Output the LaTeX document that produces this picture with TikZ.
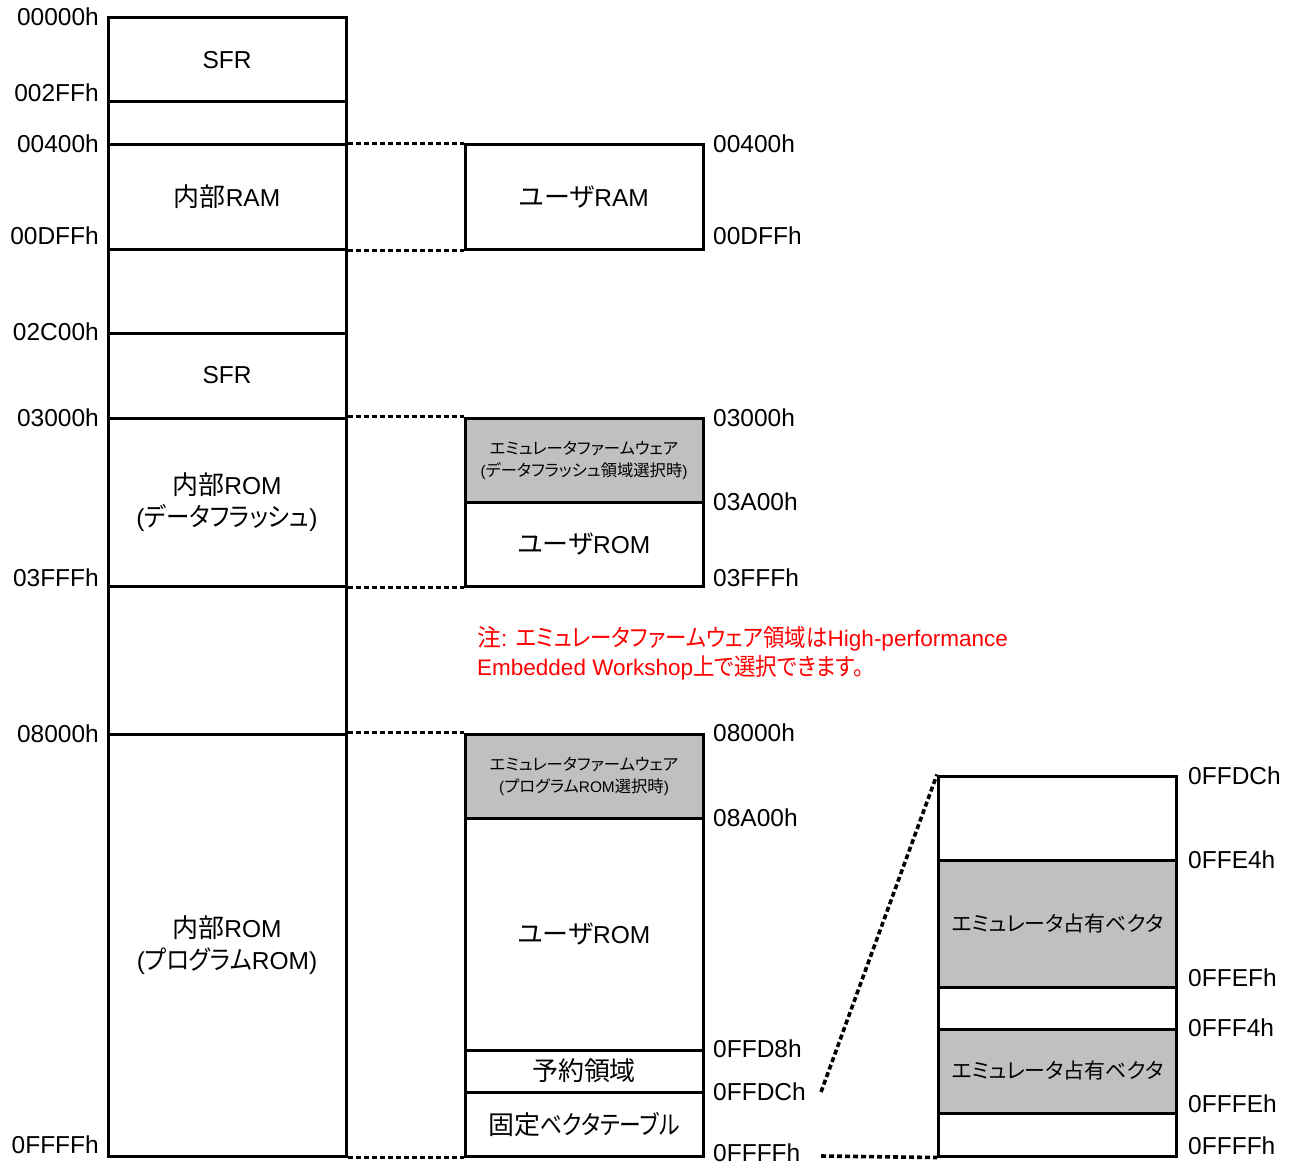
\documentclass[tikz,border=0pt]{standalone}
\usepackage{fontspec}
\setmainfont{Liberation Sans}
\newfontfamily\cjk[Scale=1.06,RawFeature={+palt}]{Noto Sans CJK JP}
\newfontfamily\cjkn[Scale=1.06,FakeStretch=0.84,RawFeature={+palt}]{Noto Sans CJK JP}
\newfontfamily\cjkm[Scale=1.06,FakeStretch=0.9,RawFeature={+palt}]{Noto Sans CJK JP}
\newcommand\J[1]{{\cjk #1}}
\newcommand\JN[1]{{\cjkn #1}}
\newcommand\JM[1]{{\cjkm #1}}
\definecolor{grayfill}{RGB}{192,192,192}
\definecolor{notered}{RGB}{255,0,0}
\begin{document}
\begin{tikzpicture}[x=1pt,y=-1pt,
  seg/.style={draw, line width=3pt, inner sep=0pt, align=center,
    font=\fontsize{24.5}{32}\selectfont},
  segL/.style={seg, minimum width=238pt},
  gseg/.style={seg, fill=grayfill},
  addrL/.style={anchor=east, inner sep=0pt, font=\fontsize{24.5}{30}\selectfont},
  addrR/.style={anchor=west, inner sep=0pt, font=\fontsize{24.5}{30}\selectfont},
  dotline/.style={line width=3.6pt, dash pattern=on 5pt off 3pt},
  small/.style={font=\fontsize{15.4}{22}\selectfont},
  vec/.style={font=\fontsize{19.8}{28}\selectfont}
]
\useasboundingbox (0,0) rectangle (1297,1166);

% ---------- left column ----------
\node[segL, minimum height=84pt]  (sfrA)   at (227,60)    {SFR};
\node[segL, minimum height=43pt]  (gapA)   at (227,123.5) {};
\node[segL, minimum height=104pt] (iram)   at (227,197)   {\J{内部}RAM};
\node[segL, minimum height=84pt]  (gapB)   at (227,291)   {};
\node[segL, minimum height=85pt]  (sfrB)   at (227,375.5) {SFR};
\node[segL, minimum height=168pt] (romD)   at (227,502)   {\J{内部}ROM\\(\JM{データフラッシュ})};
\node[segL, minimum height=148pt] (gapC)   at (227,660)   {};
\node[segL, minimum height=422pt] (romP)   at (227,945)   {\J{内部}ROM\\(\JM{プログラム}ROM)};

\node[addrL] (l00000) at (99,17)   {00000h};
\node[addrL] (l002FF) at (99,93)   {002FFh};
\node[addrL] (l00400) at (99,144)  {00400h};
\node[addrL] (l00DFF) at (99,236)  {00DFFh};
\node[addrL] (l02C00) at (99,332)  {02C00h};
\node[addrL] (l03000) at (99,418)  {03000h};
\node[addrL] (l03FFF) at (99,578)  {03FFFh};
\node[addrL] (l08000) at (99,734)  {08000h};
\node[addrL] (l0FFFF) at (99,1145) {0FFFFh};

% ---------- middle column ----------
\node[segL, minimum height=104pt] (uram)  at (584,197) {\J{ユーザ}RAM};
\node[gseg, minimum width=238pt, minimum height=84pt, small] (fwD) at (584,460)
  {\J{エミュレータファームウェア}\\(\J{データフラッシュ領域選択時})};
\node[segL, minimum height=84pt]  (uromD) at (584,544) {\J{ユーザ}ROM};
\node[gseg, minimum width=238pt, minimum height=84pt, small] (fwP) at (584,776)
  {\J{エミュレータファームウェア}\\(\J{プログラム}ROM\J{選択時})};
\node[segL, minimum height=232pt] (uromP) at (584,934) {\J{ユーザ}ROM};
\node[segL, minimum height=42pt]  (resv)  at (584,1071) {\J{予約領域}};
\node[segL, minimum height=64pt]  (fvec)  at (584,1124) {\J{固定}\JN{ベクタテーブル}};

\node[addrR] (m00400) at (713,144)  {00400h};
\node[addrR] (m00DFF) at (713,236)  {00DFFh};
\node[addrR] (m03000) at (713,418)  {03000h};
\node[addrR] (m03A00) at (713,502)  {03A00h};
\node[addrR] (m03FFF) at (713,578)  {03FFFh};
\node[addrR] (m08000) at (713,733)  {08000h};
\node[addrR] (m08A00) at (713,818)  {08A00h};
\node[addrR] (m0FFD8) at (713,1049) {0FFD8h};
\node[addrR] (m0FFDC) at (713,1092) {0FFDCh};
\node[addrR] (m0FFFF) at (713,1153) {0FFFFh};

% ---------- right column ----------
\node[segL, minimum height=84pt]  (rA) at (1057.5,818)   {};
\node[gseg, minimum width=238pt, minimum height=127pt, vec] (rB) at (1057.5,923.5) {\J{エミュレータ占有ベクタ}};
\node[segL, minimum height=42pt]  (rC) at (1057.5,1008)  {};
\node[gseg, minimum width=238pt, minimum height=84pt, vec]  (rD) at (1057.5,1071)   {\J{エミュレータ占有ベクタ}};
\node[segL, minimum height=43pt]  (rE) at (1057.5,1134.5) {};

\node[addrR] (r0FFDC) at (1188,776)  {0FFDCh};
\node[addrR] (r0FFE4) at (1188,860)  {0FFE4h};
\node[addrR] (r0FFEF) at (1188,978)  {0FFEFh};
\node[addrR] (r0FFF4) at (1188,1028) {0FFF4h};
\node[addrR] (r0FFFE) at (1188,1104) {0FFFEh};
\node[addrR] (r0FFFF) at (1188,1146) {0FFFFh};

% ---------- note ----------
\node[anchor=west, align=left, inner sep=0pt, text=notered,
  font=\fontsize{22.5}{29}\selectfont] (note) at (477,653.5)
  {\J{注}: \JM{エミュレータファームウェア領域は}High-performance\\
   Embedded Workshop\JM{上で選択できます。}};

% ---------- dotted connectors ----------
\draw[dotline] (iram.north east) -- (uram.north west);
\draw[dotline] (iram.south east) -- (uram.south west);
\draw[dotline] (romD.north east) -- (fwD.north west);
\draw[dotline] (romD.south east) -- (uromD.south west);
\draw[dotline] (romP.north east) -- (fwP.north west);
\draw[dotline] (romP.south east) -- (fvec.south west);
\coordinate (zoomA) at (821,1092);
\coordinate (zoomB) at (821,1156);
\draw[dotline] (zoomA) -- (rA.north west);
\draw[dotline] (zoomB) -- (rE.south west);
\end{tikzpicture}
\end{document}
